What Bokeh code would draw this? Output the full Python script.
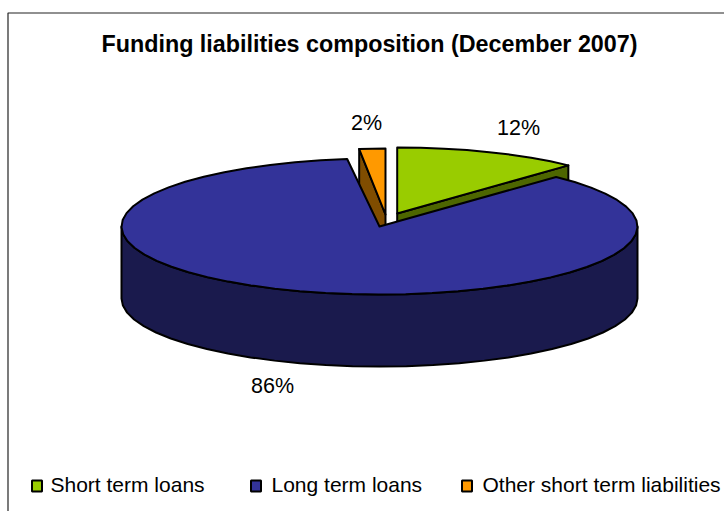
import math
from bokeh.plotting import figure
from bokeh.models import Range1d
from bokeh.core.properties import value
from bokeh.embed import file_html
from bokeh.resources import INLINE

TITLE = "Funding liabilities composition (December 2007)"
categories = ["Short term loans", "Long term loans", "Other short term liabilities"]
shares = [12, 86, 2]
share_labels = ["12%", "86%", "2%"]

top_colors = ["#99CC00", "#333399", "#FF9900"]
side_colors = ["#4D6600", "#1A1A4D", "#804D00"]

FONT = value("Liberation Sans")
DEPTH = 72
STEP = 6.0

# Slice placement on the tilted disc: apex, horizontal and vertical radii.
apex = [(396.7, 213.0), (379.0, 226.0), (385.0, 214.0)]
radii = [(250.0, 66.0), (258.0, 68.0), (210.0, 66.0)]

label_pos = [(518, 127), (272, 385), (366, 122)]
legend_swatch_x = [31, 250, 461]
legend_text_x = [50, 271, 482]


def angle_spans(values):
    spans, start = [], 0.0
    total = sum(values)
    for v in values:
        end = start + 360.0 * v / total
        spans.append((start, end))
        start = end
    return spans


def rim(center, radius, start, end):
    """Faceted outline of the disc rim between two angles, clockwise from the top."""
    count = max(1, int(math.ceil((end - start) / STEP)))
    pts = []
    for i in range(count + 1):
        t = math.radians(start + (end - start) * i / count)
        pts.append((center[0] + radius[0] * math.sin(t), center[1] - radius[1] * math.cos(t)))
    return pts


p = figure(width=724, height=511, output_backend="svg", toolbar_location=None,
           x_range=Range1d(0, 724), y_range=Range1d(511, 0),
           x_axis_type=None, y_axis_type=None, min_border=0,
           outline_line_color=None, background_fill_color="white",
           border_fill_color="white")
p.grid.visible = False


def poly(points, color, width=2.0):
    p.patch([q[0] for q in points], [q[1] for q in points], fill_color=color,
            line_color="black", line_width=width, line_join="round")


# Chart frame
p.line([724, 7.5, 7.5], [12.5, 12.5, 511], line_color="#222222", line_width=1.2)

spans = angle_spans(shares)
GREEN, BLUE, ORANGE = 0, 1, 2


def cut_wall(i, angle):
    c, r = apex[i], radii[i]
    edge = rim(c, r, angle, angle)[0]
    return [c, edge, (edge[0], edge[1] + DEPTH), (c[0], c[1] + DEPTH)]


# Exploded slices sit behind the large slice, so they go first.
poly(cut_wall(ORANGE, spans[ORANGE][0]), side_colors[ORANGE])
poly([apex[ORANGE]] + rim(apex[ORANGE], radii[ORANGE], *spans[ORANGE]), top_colors[ORANGE])

poly(cut_wall(GREEN, spans[GREEN][1]), side_colors[GREEN])
poly([apex[GREEN]] + rim(apex[GREEN], radii[GREEN], *spans[GREEN]), top_colors[GREEN])

# Large slice: front wall, then its top face.
front = rim(apex[BLUE], radii[BLUE], 90, 270)
poly(front + [(x, y + DEPTH) for x, y in reversed(front)], side_colors[BLUE])
poly([apex[BLUE]] + rim(apex[BLUE], radii[BLUE], *spans[BLUE]), top_colors[BLUE])

p.text([369], [43], text=[TITLE], text_font=FONT, text_font_style="bold",
       text_font_size="23.3px", text_align="center", text_baseline="middle", text_color="black")

p.text([q[0] for q in label_pos], [q[1] for q in label_pos], text=share_labels,
       text_font=FONT, text_font_size="21.5px", text_align="center",
       text_baseline="middle", text_color="black")

# Legend row along the bottom
p.rect([x + 5.5 for x in legend_swatch_x], [485.5] * 3, width=10, height=11,
       fill_color=top_colors, line_color="black", line_width=2.0)
p.text(legend_text_x, [484] * 3, text=categories, text_font=FONT, text_font_size="21px",
       text_align="left", text_baseline="middle", text_color="black")

open("out.html", "w").write(file_html(p, INLINE))
